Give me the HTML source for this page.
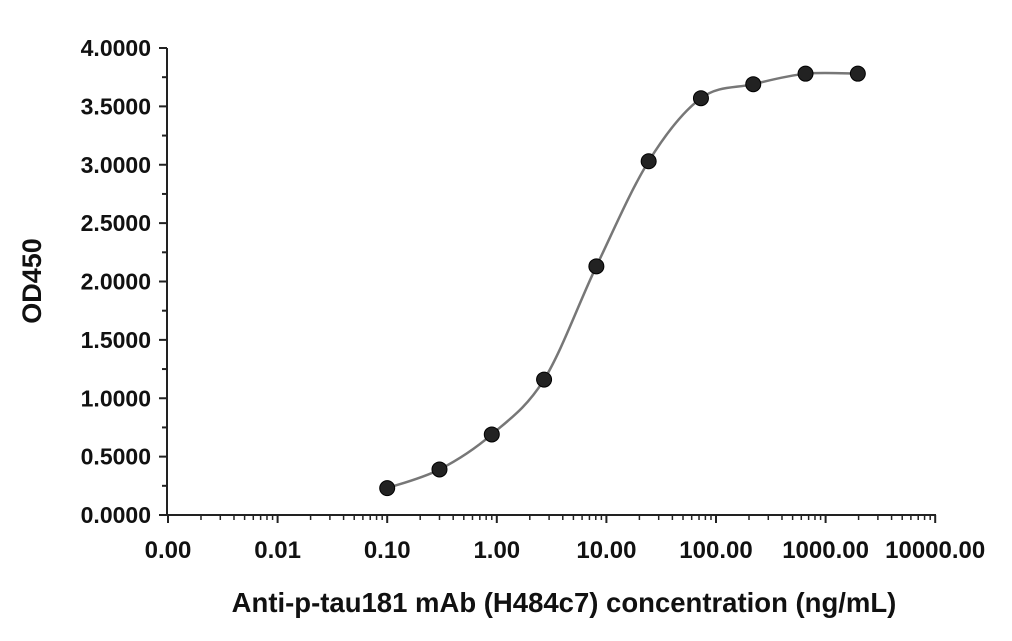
<!DOCTYPE html>
<html><head><style>
body{margin:0;background:#fff;}
svg text{font-family:"Liberation Sans",sans-serif;font-weight:bold;fill:#111;}
</style></head><body>
<svg id="s" width="1012" height="636" xmlns="http://www.w3.org/2000/svg"></svg>
<script>
const s=document.getElementById('s');let h='';
const X0=168,D=109.6,Y0=515,K=116.75;
const xp=v=>X0+(Math.log10(v)+3)*D, yp=v=>Y0-v*K;
h+=`<line x1="167" y1="48" x2="167" y2="516" stroke="#222" stroke-width="2"/>`;
h+=`<line x1="166" y1="515" x2="936" y2="515" stroke="#222" stroke-width="2"/>`;
for(let i=0;i<=16;i++){const y=Y0-i*0.25*K;const maj=i%2==0;
h+=`<line x1="${maj?159:162}" y1="${y}" x2="167" y2="${y}" stroke="#222" stroke-width="2"/>`;
if(maj)h+=`<text x="151" y="${y+8}" font-size="23" text-anchor="end">${(i*0.25).toFixed(4)}</text>`;}
const labs=["0.00","0.01","0.10","1.00","10.00","100.00","1000.00","10000.00"];
for(let d=0;d<=7;d++){const x=X0+d*D;
h+=`<line x1="${x}" y1="515" x2="${x}" y2="523" stroke="#222" stroke-width="2"/>`;
h+=`<text x="${x}" y="558" font-size="24" text-anchor="middle">${labs[d]}</text>`;
if(d<7)for(let m=2;m<=9;m++){const xx=x+Math.log10(m)*D;h+=`<line x1="${xx}" y1="515" x2="${xx}" y2="520" stroke="#222" stroke-width="1.5"/>`;}}
const xs=[0.1,0.3,0.9,2.7,8.1,24.3,72.9,218.7,656.1,1968.3],ys=[0.23,0.39,0.69,1.16,2.13,3.03,3.57,3.69,3.78,3.78];
const P=xs.map((x,i)=>[xp(x),yp(ys[i])]);
let p=`M${P[0][0]} ${P[0][1]}`;
for(let i=0;i<P.length-1;i++){const a=P[i-1]||P[i],b=P[i],c=P[i+1],d=P[i+2]||c;
const c1=[b[0]+(c[0]-a[0])/6,b[1]+(c[1]-a[1])/6],c2=[c[0]-(d[0]-b[0])/6,c[1]-(d[1]-b[1])/6];
p+=` C${c1[0]} ${c1[1]} ${c2[0]} ${c2[1]} ${c[0]} ${c[1]}`;}
h+=`<path d="${p}" fill="none" stroke="#777" stroke-width="2.5"/>`;
P.forEach(q=>h+=`<circle cx="${q[0]}" cy="${q[1]}" r="7.5" fill="#222" stroke="#000" stroke-width="1"/>`);
h+=`<text x="564" y="612" font-size="27.5" text-anchor="middle">Anti-p-tau181 mAb (H484c7) concentration (ng/mL)</text>`;
h+=`<text transform="translate(41,281) rotate(-90)" font-size="27" text-anchor="middle">OD450</text>`;
s.innerHTML=h;
</script>
</body></html>
